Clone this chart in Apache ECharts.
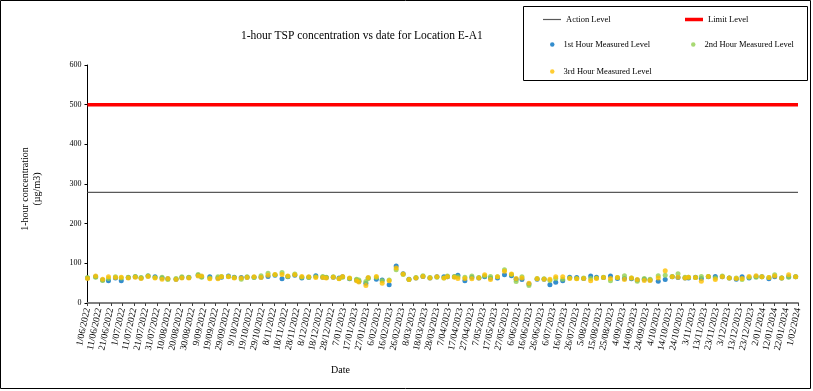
<!DOCTYPE html>
<html><head><meta charset="utf-8">
<script src="https://cdn.jsdelivr.net/npm/echarts@6/dist/echarts.min.js"></script>
<style>html,body{margin:0;padding:0;background:#fff}#c{width:813px;height:391px}</style>
</head><body><div id="c"></div>
<script>
const dates = [
'2022-06-01','2022-06-08','2022-06-14','2022-06-19','2022-06-25','2022-06-30','2022-07-06','2022-07-12','2022-07-17','2022-07-23','2022-07-29','2022-08-04','2022-08-09','2022-08-16','2022-08-21','2022-08-27','2022-09-04','2022-09-07','2022-09-14','2022-09-21','2022-09-24','2022-09-30',
'2022-10-05','2022-10-11','2022-10-16','2022-10-22','2022-10-28','2022-11-03','2022-11-09','2022-11-15','2022-11-20','2022-11-26','2022-12-02','2022-12-08','2022-12-14','2022-12-20','2022-12-23','2022-12-29','2023-01-03','2023-01-06','2023-01-12','2023-01-18','2023-01-20','2023-01-26','2023-01-28',
'2023-02-04','2023-02-09','2023-02-15','2023-02-21','2023-02-27','2023-03-04','2023-03-10','2023-03-16','2023-03-22','2023-03-28','2023-04-03','2023-04-06','2023-04-12','2023-04-15','2023-04-21','2023-04-27','2023-05-03','2023-05-08','2023-05-13','2023-05-19','2023-05-25',
'2023-05-31','2023-06-04','2023-06-09','2023-06-15','2023-06-22','2023-06-28','2023-07-03','2023-07-08','2023-07-14','2023-07-20','2023-07-26','2023-08-01','2023-08-07','2023-08-12','2023-08-18','2023-08-24','2023-08-30','2023-09-05','2023-09-11','2023-09-16','2023-09-22','2023-09-27',
'2023-10-04','2023-10-10','2023-10-16','2023-10-21','2023-10-27','2023-10-30','2023-11-05','2023-11-10','2023-11-16','2023-11-22','2023-11-28','2023-12-04','2023-12-10','2023-12-15','2023-12-21','2023-12-27','2024-01-01','2024-01-07','2024-01-12','2024-01-18','2024-01-24','2024-01-30'
];
const hour1 = [
63,66,58,56,63,56,64,66,63,68,66,63,61,60,64,64,70,66,66,63,65,68,
65,64,65,65,65,67,70,61,66,70,63,65,69,65,64,65,63,66,61,58,55,50,63,
60,58,46,93,74,60,63,67,63,66,66,66,66,70,56,65,63,66,63,63,71,
69,60,59,48,60,60,46,52,56,65,64,62,68,65,64,68,62,62,61,58,60,58,
55,59,66,64,63,63,65,62,66,67,66,63,60,66,63,66,66,61,66,63,66,66
];
const hour2 = [
64,65,57,62,66,63,65,67,64,69,64,65,59,62,66,65,72,65,63,66,67,67,
64,60,66,64,69,75,71,77,67,73,65,64,66,67,65,66,62,65,62,60,58,54,62,
64,56,58,84,72,59,64,69,64,65,63,68,67,66,65,68,64,68,67,66,84,
72,54,66,44,62,61,57,62,60,63,62,63,62,63,65,56,64,69,63,55,62,60,
69,70,67,74,65,65,64,67,67,63,68,63,63,59,64,65,66,64,71,63,65,66
];
const hour3 = [
62,68,60,66,64,65,63,65,62,67,63,60,62,59,63,63,68,68,61,61,66,66,
63,63,64,66,64,70,72,72,68,71,67,66,64,64,63,65,61,67,63,56,53,44,64,
67,50,56,88,73,59,63,67,63,66,63,66,65,62,62,61,63,71,59,66,80,
73,62,63,50,61,60,60,66,66,62,61,62,56,62,64,62,64,59,63,59,57,57,
63,81,66,65,63,65,64,55,67,59,66,63,62,62,67,69,66,64,68,63,71,66
];
const actionLevel = 279;
const limitLevel = 500;
const axisStart = '2022-06-01';
const axisEnd = '2024-02-01';
const tickDays = 10;
const yMin = 0, yMax = 600, yStep = 100;

const DAY = 86400000;
function toUTC(s){ const p = s.split('-').map(Number); return Date.UTC(p[0], p[1]-1, p[2]); }
const t0 = toUTC(axisStart);
function dayIndex(s){ return Math.round((toUTC(s) - t0) / DAY); }
const xMax = dayIndex(axisEnd);
function fmt(v){
  const d = new Date(t0 + v * DAY);
  return d.getUTCDate() + '/' + String(d.getUTCMonth()+1).padStart(2,'0') + '/' + d.getUTCFullYear();
}
const serif = '"Liberation Serif","Times New Roman",serif';
const pts = arr => dates.map((d,i) => [dayIndex(d), arr[i]]);

const legendBase = {padding:0, selectedMode:false, itemGap:0,
  textStyle:{fontFamily:serif, fontSize:8.5, color:'#000'}};
const dotText = {fontFamily:serif, fontSize:8.5, color:'#000', padding:[0,0,0,4]};

const chart = echarts.init(document.getElementById('c'), null, {renderer:'canvas'});
chart.setOption({
  animation:false,
  backgroundColor:'#fff',
  title:{text:'1-hour TSP concentration vs date for Location E-A1', left:236, top:25,
    textStyle:{fontFamily:serif, fontSize:11.5, fontWeight:'normal', color:'#000'}},
  legend:[
    Object.assign({}, legendBase, {data:[{name:'Action Level', icon:'rect'}], left:543, top:15, itemWidth:18, itemHeight:1.2}),
    Object.assign({}, legendBase, {data:[{name:'Limit Level', icon:'rect'}], left:685, top:15, itemWidth:18, itemHeight:3.5}),
    Object.assign({}, legendBase, {data:[{name:'1st Hour Measured Level', icon:'circle'}], left:550, top:40, itemWidth:4.5, itemHeight:4.5, textStyle:dotText}),
    Object.assign({}, legendBase, {data:[{name:'2nd Hour Measured Level', icon:'circle'}], left:691, top:40, itemWidth:4.5, itemHeight:4.5, textStyle:dotText}),
    Object.assign({}, legendBase, {data:[{name:'3rd Hour Measured Level', icon:'circle'}], left:550, top:67, itemWidth:4.5, itemHeight:4.5, textStyle:dotText})
  ],
  grid:{left:87.5, right:15, top:65, bottom:88},
  xAxis:{type:'value', min:0, max:xMax, interval:tickDays,
    axisLine:{show:true, lineStyle:{color:'#808080', width:2}},
    axisTick:{show:true, length:3, lineStyle:{color:'#404040'}},
    axisLabel:{formatter:fmt, rotate:78, fontFamily:serif, fontSize:9.5, color:'#000', margin:5, showMaxLabel:true, showMinLabel:true},
    splitLine:{show:false}},
  yAxis:{type:'value', min:yMin, max:yMax, interval:yStep,
    name:'1-hour concentration\n(µg/m3)', nameLocation:'middle', nameGap:44,
    nameTextStyle:{fontFamily:serif, fontSize:10, color:'#000', lineHeight:12, padding:[0,0,0,-10]},
    axisLine:{show:true, lineStyle:{color:'#000', width:1}},
    axisTick:{show:true, length:3, lineStyle:{color:'#000'}},
    axisLabel:{fontFamily:serif, fontSize:8, color:'#000', margin:6},
    splitLine:{show:false}},
  series:[
    {name:'Action Level', type:'line', data:[[0,actionLevel],[xMax,actionLevel]], symbol:'none', color:'#595959', lineStyle:{color:'#595959', width:1.2}, z:2},
    {name:'Limit Level', type:'line', data:[[0,limitLevel],[xMax,limitLevel]], symbol:'none', color:'#ff0000', lineStyle:{color:'#ff0000', width:3.5}, z:2},
    {name:'1st Hour Measured Level', type:'scatter', data:pts(hour1), symbolSize:5, itemStyle:{color:'#0070C0'}, z:3},
    {name:'2nd Hour Measured Level', type:'scatter', data:pts(hour2), symbolSize:5, itemStyle:{color:'#92D050'}, z:4},
    {name:'3rd Hour Measured Level', type:'scatter', data:pts(hour3), symbolSize:5, itemStyle:{color:'#FFC000'}, z:5}
  ],
  graphic:[
    {type:'rect', shape:{x:0.5, y:0.5, width:810, height:388}, style:{fill:null, stroke:'#000', lineWidth:1}, silent:true},
    {type:'rect', shape:{x:523.5, y:6.5, width:284, height:74}, style:{fill:null, stroke:'#000', lineWidth:1}, silent:true},
    {type:'text', left:331, top:365, style:{text:'Date', font:'10px ' + serif, fill:'#000'}}
  ]
});
</script>
</body></html>
